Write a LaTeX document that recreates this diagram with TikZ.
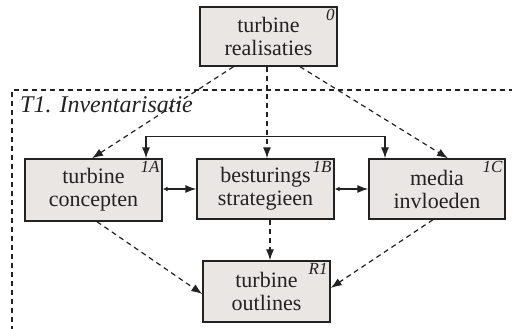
\documentclass[tikz,border=0pt]{standalone}
\usepackage{fontspec}
\setmainfont{Liberation Serif}
\usetikzlibrary{arrows.meta}
\definecolor{boxfill}{HTML}{E9E6E3}
\definecolor{ink}{HTML}{222222}
\begin{document}
\begin{tikzpicture}[x=1pt,y=-1pt,
  blk/.style={draw=ink, line width=1.4pt, fill=boxfill, align=center,
    inner sep=0pt, font=\fontsize{22}{23}\selectfont, text=ink},
  tag/.style={anchor=north east, inner sep=0pt, xshift=-3pt, yshift=-3pt,
    font=\itshape\fontsize{17}{17}\selectfont, text=ink},
  bighead/.style={-{Latex[length=11pt,width=8pt]}},
  dsh/.style={draw=ink, line width=1.2pt, dash pattern=on 5pt off 4pt, bighead},
  sol/.style={draw=ink, line width=1.2pt},
  twoway/.style={sol, {Latex[length=5pt,width=5pt]}-{Latex[length=11pt,width=8pt]}}
]
\useasboundingbox (0,0) rectangle (512,329);

% task frame
\draw[ink, line width=1.2pt, dash pattern=on 5pt off 4pt]
  (12,340) -- (12,90) -- (520,90);
\node[anchor=base west, inner sep=0pt, font=\itshape\fontsize{24}{24}\selectfont, text=ink]
  (frametitle) at (20,113) {T1. Inventarisatie};

% blocks
\node[blk, minimum width=137pt, minimum height=59pt] (b0) at (268.5,36.5) {turbine\\realisaties};
\node[blk, minimum width=137pt, minimum height=62pt] (b1a) at (93.5,190) {turbine\\concepten};
\node[blk, minimum width=137pt, minimum height=60pt] (b1b) at (265.5,189) {besturings\\strategieen};
\node[blk, minimum width=136pt, minimum height=60pt] (b1c) at (437,189) {media\\invloeden};
\node[blk, minimum width=127pt, minimum height=61pt] (br1) at (266.5,291.5) {turbine\\outlines};

% block codes
\node[tag] (t0)  at (b0.north east)  {0};
\node[tag] (t1a) at (b1a.north east) {1A};
\node[tag] (t1b) at (b1b.north east) {1B};
\node[tag] (t1c) at (b1c.north east) {1C};
\node[tag] (tr1) at (br1.north east) {R1};

% from the realisations
\draw[dsh] ([xshift=-35pt]b0.south) -- ([xshift=-1.5pt]b1a.north);
\draw[dsh] ([xshift=-1.5pt]b0.south) -- ([xshift=1.5pt]b1b.north);
\draw[dsh] ([xshift=31.5pt]b0.south) -- ([xshift=11pt]b1c.north);

% links between the inventory blocks
\draw[twoway] (b1a.east |- 0,189) -- (b1b.west |- 0,189);
\draw[twoway] (b1b.east |- 0,189) -- (b1c.west |- 0,189);
\draw[sol, {Latex[length=11pt,width=8pt]}-{Latex[length=11pt,width=8pt]}]
  ([xshift=52.5pt]b1a.north) -- ++(0,-22) -| ([xshift=-52pt]b1c.north);

% towards the outlines
\draw[dsh] ([xshift=3.5pt]b1a.south) -- (br1.west |- 0,294);
\draw[dsh] ([xshift=4.5pt]b1b.south) -- ([xshift=3.5pt]br1.north);
\draw[dsh] ([xshift=-4pt]b1c.south) -- (br1.east |- 0,288);
\end{tikzpicture}
\end{document}
